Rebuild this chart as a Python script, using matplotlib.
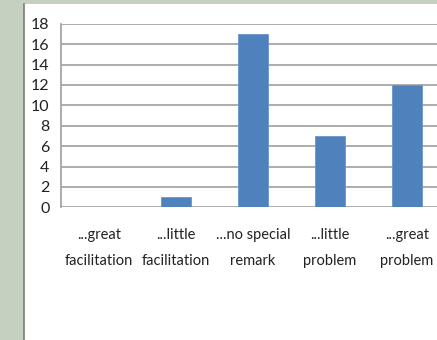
import matplotlib
matplotlib.use("Agg")
import matplotlib.pyplot as plt
from matplotlib.patches import Rectangle
from matplotlib.lines import Line2D

categories = ["...great\nfacilitation", "...little\nfacilitation", "...no special\nremark",
              "...little\nproblem", "...great\nproblem"]
counts = [0, 1, 17, 7, 12]
yticks = [0, 2, 4, 6, 8, 10, 12, 14, 16, 18]

plt.rcParams["font.family"] = ["Lato", "DejaVu Sans"]

W, H = 437, 340
fig = plt.figure(figsize=(W / 100, H / 100), dpi=100)
fig.patch.set_facecolor("#c6d0c0")

# white panel with a dark left border
fig.patches.append(Rectangle((24 / W, 0), 1 - 24 / W, 1 - 4 / H, transform=fig.transFigure,
                             facecolor="white", edgecolor="none", zorder=-2))
fig.lines.append(Line2D([23.5 / W, 23.5 / W], [0, 1 - 4 / H], transform=fig.transFigure,
                        color="#7a7a7a", lw=1.2, zorder=-1))

left, right = 60.5, 445.5
bottom, top = 207.3, 23.7
ax = fig.add_axes([left / W, 1 - bottom / H, (right - left) / W, (bottom - top) / H])
ax.set_facecolor("none")
ax.set_zorder(2)

x = range(len(categories))
ax.bar(x, counts, width=0.39, color="#4f81bd", edgecolor="#6a95c8", linewidth=0.6, zorder=3)

ax.set_xlim(-0.5, len(categories) - 0.5)
ax.set_ylim(0, 18)
ax.set_yticks(yticks)
ax.set_xticks(list(x))
ax.set_xticklabels(categories, fontsize=10.5, color="#222222", linespacing=2.05)
ax.tick_params(axis="y", labelsize=11.5, labelcolor="#222222", length=0, pad=8)
ax.tick_params(axis="x", length=0, pad=15)
ax.yaxis.grid(True, color="#a6a6a6", lw=1.3, zorder=0)
for s in ["top", "right", "bottom"]:
    ax.spines[s].set_visible(False)
ax.spines["left"].set_color("#a6a6a6")
ax.spines["left"].set_linewidth(1.3)

fig.savefig("out.png", dpi=100, facecolor=fig.get_facecolor())
